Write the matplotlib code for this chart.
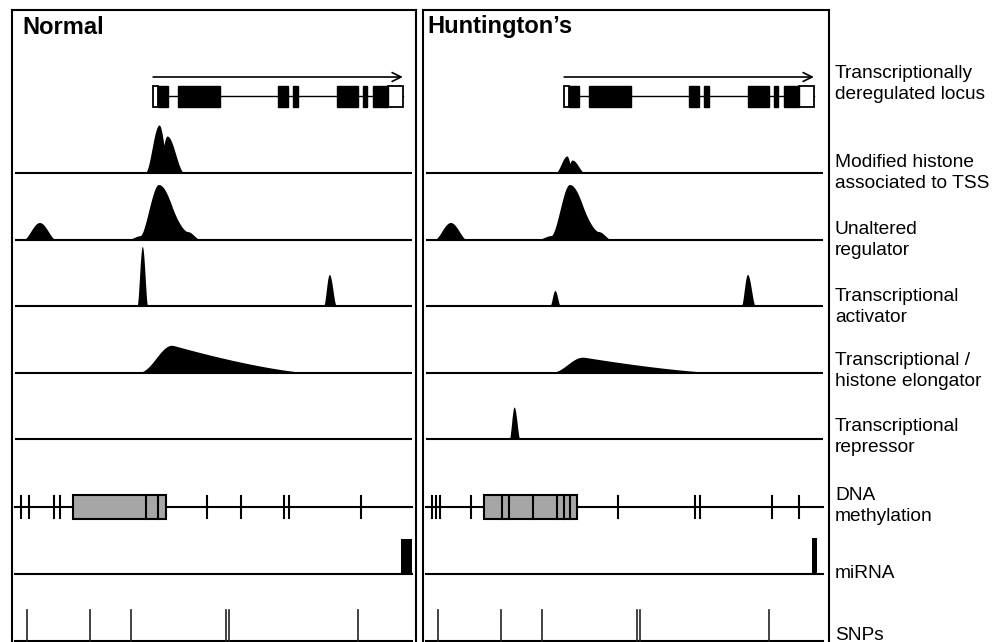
import matplotlib
matplotlib.use('Agg')
import matplotlib.pyplot as plt
from matplotlib.patches import Rectangle
import numpy as np

plt.rcParams['font.family'] = ['Liberation Sans', 'DejaVu Sans']

W, H = 1001, 642

# --- data (genomic position 0-100 along each panel, heights in px) ---
panel_titles = ['Normal', 'Huntington\u2019s']

track_labels = ['Transcriptionally\nderegulated locus',
                'Modified histone\nassociated to TSS',
                'Unaltered\nregulator',
                'Transcriptional\nactivator',
                'Transcriptional /\nhistone elongator',
                'Transcriptional\nrepressor',
                'DNA\nmethylation',
                'miRNA',
                'SNPs']

# gene model (identical in both panels)
gene_span = (34.8, 97.7)
utr_blocks = [(34.8, 36.0), (94.0, 97.7)]
exon_blocks = [(36.0, 38.5), (41.1, 51.6), (66.2, 68.8), (70.0, 71.3),
               (81.1, 86.4), (87.7, 88.7), (90.2, 94.0)]

# peaks: (centre, height, left half-width, right half-width)
histone_peaks = [
    [(36.3, 48, 3.6, 2.7), (38.3, 37, 2.4, 4.4)],
    [(35.5, 17, 3.0, 1.6), (36.8, 13, 1.6, 3.3)],
]
regulator_peaks = [
    [(6.3, 17, 4.0, 4.0), (32.0, 4, 3.5, 3.0), (36.3, 55, 4.6, 7.2), (43.5, 8, 3.8, 3.2)],
    [(6.3, 17, 4.0, 4.0), (31.8, 4, 3.5, 3.0), (36.3, 55, 4.6, 7.2), (43.5, 8, 3.8, 3.2)],
]
activator_peaks = [
    [(32.2, 59, 1.3, 1.3), (79.3, 31, 1.4, 1.7)],
    [(32.6, 15, 1.2, 1.3), (81.1, 31, 1.5, 1.9)],
]
repressor_peaks = [
    [],
    [(22.2, 32, 1.2, 1.4)],
]
# elongator: (start, apex, end, height)
elongator = [(30.2, 39.5, 74.8, 28), (30.5, 39.5, 74.6, 16)]

meth_sites = [[1.5, 3.5, 9.8, 11.3, 48.4, 56.9, 67.8, 69.0, 87.2],
              [1.5, 2.5, 3.5, 11.3, 48.4, 67.8, 69.0, 87.2, 94.0]]
meth_island = (14.6, 38.0)
meth_island_sites = [[33.0, 36.0],
                     [19.1, 20.9, 27.0, 33.0, 34.8, 36.3]]

# miRNA block: (start, end, height)
mirna = [(97.2, 100.0, 35), (97.2, 98.5, 36)]

snps = [[3.0, 18.9, 29.2, 53.1, 53.8, 86.4],
        [3.0, 18.9, 29.2, 53.1, 53.8, 86.4]]

# --- layout (pixel rows) ---
gene_y = 96
arrow_y = 77
baselines = [173, 240, 306, 373, 439, 507, 574, 641]
label_y = [84, 173, 240, 307, 371, 437, 506, 573, 635]
panel_px = [(12, 416, 15), (423, 829, 426)]   # box left, box right, baseline start
title_x = [22, 427]
px_per_unit = 3.97

xs = np.linspace(0, 100, 4000)


def bump(peaks, combine='max', power=1.0):
    y = np.zeros_like(xs)
    for c, h, wl, wr in peaks:
        t = np.where(xs < c, (xs - c) / wl, (xs - c) / wr)
        p = np.where(np.abs(t) < 1, h * (0.5 + 0.5 * np.cos(np.pi * t)) ** power, 0)
        y = np.maximum(y, p) if combine == 'max' else y + p
    return y


def skewed(s, c, e, h):
    y = np.zeros_like(xs)
    rise = (xs >= s) & (xs < c)
    y[rise] = h * (0.5 - 0.5 * np.cos(np.pi * (xs[rise] - s) / (c - s))) ** 1.3
    fall = (xs >= c) & (xs <= e)
    y[fall] = h * (1 - (xs[fall] - c) / (e - c)) ** 1.4
    k = np.ones(60) / 60   # round off the apex
    return np.convolve(y, k, mode='same')


def fill_track(ax, y, base):
    ax.fill_between(xs, base, base - y, where=y > 0.05, color='black', lw=0)
    ax.plot([0, 100], [base, base], color='black', lw=1.5, solid_capstyle='butt')


fig = plt.figure(figsize=(W / 100, H / 100), dpi=100)
fig.patch.set_facecolor('white')

for i, (bl, br, b0) in enumerate(panel_px):
    ax = fig.add_axes([bl / W, 1 - 652 / H, (br - bl) / W, (652 - 10) / H])
    ax.set_xlim((bl - b0) / px_per_unit, (br - b0) / px_per_unit)
    ax.set_ylim(652, 10)
    ax.set_xticks([])
    ax.set_yticks([])
    for s in ax.spines.values():
        s.set_linewidth(1.5)

    # title
    ax.text((title_x[i] - b0) / px_per_unit, 27, panel_titles[i], fontsize=17,
            fontweight='bold', va='center', ha='left')

    # gene model
    ax.annotate('', xy=(gene_span[1], arrow_y), xytext=(gene_span[0], arrow_y),
                arrowprops=dict(arrowstyle='->', lw=1.2, color='black',
                                mutation_scale=16, shrinkA=0, shrinkB=0))
    ax.plot(gene_span, [gene_y, gene_y], color='black', lw=1.0)
    for a, b in utr_blocks:
        ax.add_patch(Rectangle((a, gene_y - 10.5), b - a, 21, facecolor='white',
                               edgecolor='black', lw=1.3, zorder=3))
    for a, b in exon_blocks:
        ax.add_patch(Rectangle((a, gene_y - 10.5), b - a, 21, facecolor='black',
                               edgecolor='black', lw=1.0, zorder=3))

    # signal tracks
    fill_track(ax, bump(histone_peaks[i]), baselines[0])
    fill_track(ax, bump(regulator_peaks[i], combine='sum', power=0.85), baselines[1])
    fill_track(ax, bump(activator_peaks[i], power=0.85), baselines[2])
    fill_track(ax, skewed(*elongator[i]), baselines[3])
    fill_track(ax, bump(repressor_peaks[i], power=0.85), baselines[4])

    # DNA methylation
    my = baselines[5]
    ax.plot([0, 100], [my, my], color='black', lw=1.5)
    ax.add_patch(Rectangle((meth_island[0], my - 12), meth_island[1] - meth_island[0], 24,
                           facecolor='#a6a6a6', edgecolor='black', lw=1.5, zorder=3))
    for m in meth_island_sites[i]:
        ax.plot([m, m], [my - 12, my + 12], color='black', lw=1.5, zorder=4)
    for m in meth_sites[i]:
        ax.plot([m, m], [my - 11, my + 11], color='black', lw=1.5)

    # miRNA
    a, b, h = mirna[i]
    ax.add_patch(Rectangle((a, baselines[6] - h), b - a, h, facecolor='black', lw=0))
    ax.plot([0, 100], [baselines[6], baselines[6]], color='black', lw=1.5)

    # SNPs
    ax.plot([0, 100], [baselines[7], baselines[7]], color='black', lw=1.5)
    for sp in snps[i]:
        ax.plot([sp, sp], [baselines[7], baselines[7] - 31], color='#222222', lw=1.2)

for lab, y in zip(track_labels, label_y):
    fig.text(835 / W, 1 - y / H, lab, fontsize=13.8, va='center', ha='left',
             linespacing=1.3)

fig.savefig('out.png', dpi=100)
